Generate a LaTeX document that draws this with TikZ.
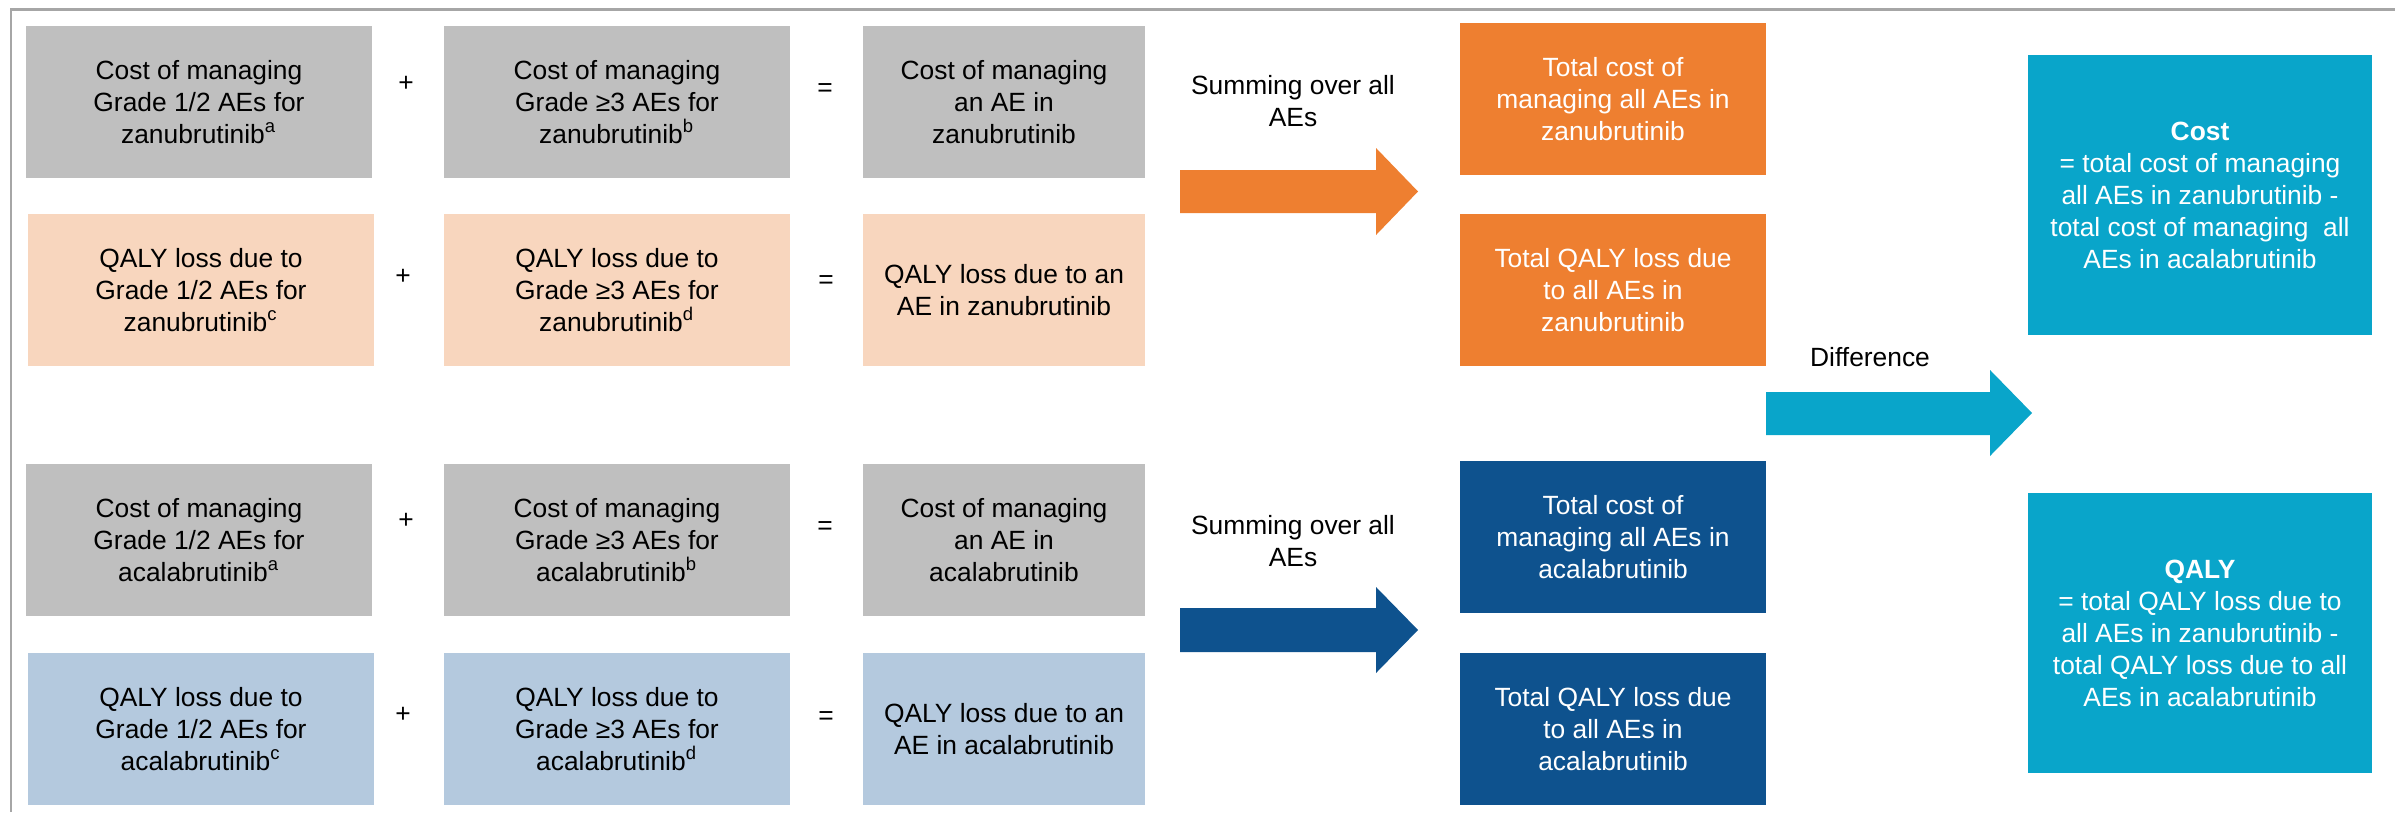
\documentclass[tikz,border=0pt]{standalone}
\usepackage{fontspec}
\setmainfont{Liberation Sans}
\definecolor{boxgray}{HTML}{BFBFBF}
\definecolor{peach}{HTML}{F8D6BE}
\definecolor{paleblue}{HTML}{B4C9DE}
\definecolor{accorange}{HTML}{EE7F30}
\definecolor{navy}{HTML}{0E528E}
\definecolor{teal}{HTML}{09A5CA}
\definecolor{framegray}{HTML}{A6A6A6}
\begin{document}
\begin{tikzpicture}[x=0.01cm,y=-0.01cm,
  txt/.style={font=\fontsize{7.5}{9.1}\selectfont, align=center, inner sep=0pt},
  box/.style={txt, minimum height=1.52cm, minimum width=3.46cm},
  narrowbox/.style={box, minimum width=2.82cm},
  totalbox/.style={box, minimum width=3.06cm, text=white},
  resultbox/.style={txt, minimum width=3.44cm, minimum height=2.8cm, fill=teal, text=white},
  op/.style={txt}]
\useasboundingbox (0,0) rectangle (2395,812);
% partial frame
\draw[framegray, line width=0.025cm] (11,812) -- (11,9.5) -- (2395,9.5);

% zanubrutinib cost row
\node[box, fill=boxgray] (zc1) at (199,102) {Cost of managing\\Grade 1/2 AEs for\\zanubrutinib\textsuperscript{a}};
\node[box, fill=boxgray] (zc2) at (617,102) {Cost of managing\\Grade ≥3 AEs for\\zanubrutinib\textsuperscript{b}};
\node[narrowbox, fill=boxgray] (zc3) at (1004,102) {Cost of managing\\an AE in\\zanubrutinib};
\node[op] (zcp) at (406,84) {+};
\node[op] (zce) at (825,90) {=};

% zanubrutinib QALY row
\node[box, fill=peach] (zq1) at (201,290) {QALY loss due to\\Grade 1/2 AEs for\\zanubrutinib\textsuperscript{c}};
\node[box, fill=peach] (zq2) at (617,290) {QALY loss due to\\Grade ≥3 AEs for\\zanubrutinib\textsuperscript{d}};
\node[narrowbox, fill=peach] (zq3) at (1004,290) {QALY loss due to an\\AE in zanubrutinib};
\node[op] (zqp) at (403,277) {+};
\node[op] (zqe) at (826,282) {=};

% acalabrutinib cost row
\node[box, fill=boxgray] (ac1) at (199,540) {Cost of managing\\Grade 1/2 AEs for\\acalabrutinib\textsuperscript{a}};
\node[box, fill=boxgray] (ac2) at (617,540) {Cost of managing\\Grade ≥3 AEs for\\acalabrutinib\textsuperscript{b}};
\node[narrowbox, fill=boxgray] (ac3) at (1004,540) {Cost of managing\\an AE in\\acalabrutinib};
\node[op] (acp) at (406,521) {+};
\node[op] (ace) at (825,528) {=};

% acalabrutinib QALY row
\node[box, fill=paleblue] (aq1) at (201,729) {QALY loss due to\\Grade 1/2 AEs for\\acalabrutinib\textsuperscript{c}};
\node[box, fill=paleblue] (aq2) at (617,729) {QALY loss due to\\Grade ≥3 AEs for\\acalabrutinib\textsuperscript{d}};
\node[narrowbox, fill=paleblue] (aq3) at (1004,729) {QALY loss due to an\\AE in acalabrutinib};
\node[op] (aqp) at (403,715) {+};
\node[op] (aqe) at (826,718) {=};

% totals
\node[totalbox, fill=accorange] (zt1) at (1613,99) {Total cost of\\managing all AEs in\\zanubrutinib};
\node[totalbox, fill=accorange] (zt2) at (1613,290) {Total QALY loss due\\to all AEs in\\zanubrutinib};
\node[totalbox, fill=navy] (at1) at (1613,537) {Total cost of\\managing all AEs in\\acalabrutinib};
\node[totalbox, fill=navy] (at2) at (1613,729) {Total QALY loss due\\to all AEs in\\acalabrutinib};

% results
\node[resultbox] (rc) at (2200,195) {\textbf{Cost}\\= total cost of managing\\all AEs in zanubrutinib -\\total cost of managing\ \ all\\AEs in acalabrutinib};
\node[resultbox] (rq) at (2200,633) {\textbf{QALY}\\= total QALY loss due to\\all AEs in zanubrutinib -\\total QALY loss due to all\\AEs in acalabrutinib};

% labels of the block arrows
\node[txt] (zsum) at (1293,101) {Summing over all\\AEs};
\node[txt] (asum) at (1293,541) {Summing over all\\AEs};
\node[txt] (diff) at (1870,357) {Difference};

% block arrows
\fill[accorange] (1180,170) -- (1376,170) -- (1376,148) -- (1418,191.5) -- (1376,235) -- (1376,213) -- (1180,213) -- cycle;
\fill[navy] (1180,608) -- (1376,608) -- (1376,587) -- (1418,630) -- (1376,673) -- (1376,652) -- (1180,652) -- cycle;
\fill[teal] (1766,392) -- (1990,392) -- (1990,370) -- (2032,413) -- (1990,456) -- (1990,435) -- (1766,435) -- cycle;
\end{tikzpicture}
\end{document}
